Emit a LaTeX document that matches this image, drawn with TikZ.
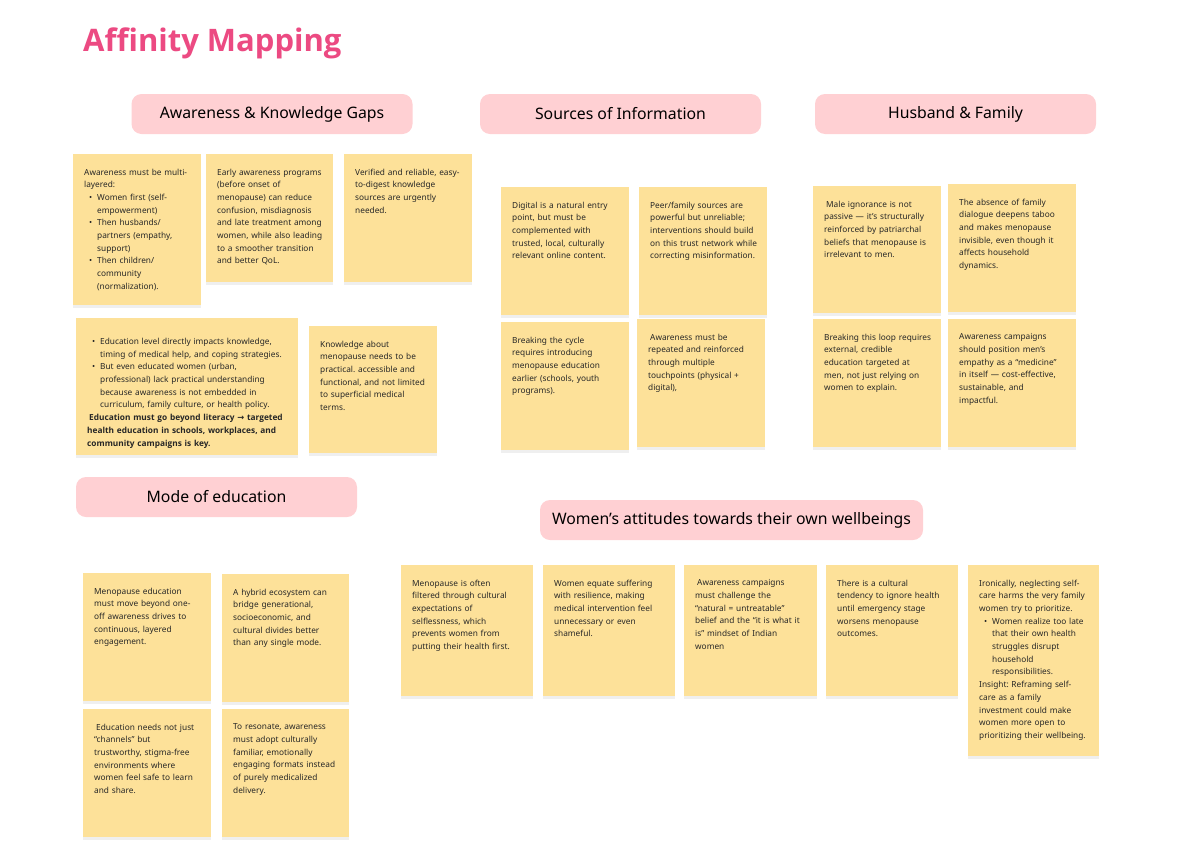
\documentclass[tikz,border=0pt]{standalone}
\usepackage{fontspec}
\setmainfont{Noto Sans}
\newfontfamily\symfont{DejaVu Sans}
\newfontfamily\titlefont{Open Sans}
\usetikzlibrary{shadows}
\definecolor{notey}{HTML}{FDE199}
\definecolor{pill}{HTML}{FFD0D3}
\definecolor{titlepink}{HTML}{EC4A82}
\setlength{\parindent}{0pt}
\frenchspacing
\newcommand{\bitem}{\par\noindent\hangindent=13pt\hangafter=1\makebox[13pt][l]{\hspace{5pt}\textbullet}}
\newcommand{\plain}{\par\noindent}
\newcommand{\lead}{\hspace*{2pt}}
\newcommand{\nl}{\newline}

\begin{document}
\begin{tikzpicture}[x=1pt, y=-1pt,
    note/.style={fill=notey, anchor=north west, inner sep=0pt, minimum width=128pt, minimum height=128pt,
      drop shadow={shadow xshift=0pt, shadow yshift=-2.5pt, opacity=0.12}},
    txt/.style={anchor=north west, inner sep=0pt, text width=215pt, text=black!85,
      font=\fontsize{8.3}{12.7}\selectfont\raggedright},
    hdr/.style={fill=pill, rounded corners=10pt, minimum width=281pt, minimum height=40pt,
      font=\fontsize{15.8}{18}\selectfont}
]
\fill[white] (0,0) rectangle (1200,857);
\useasboundingbox (0,0) rectangle (1200,857);

% title
\node[anchor=base west, inner sep=0pt, text=titlepink, font=\titlefont\fontsize{31}{36}\selectfont\bfseries] (title) at (83,51) {Affinity Mapping};

% group headers
\node[hdr] (hawr) at (272,114) {Awareness \& Knowledge Gaps};
\node[hdr] (hsrc) at (620.5,114) {Sources of Information};
\node[hdr] (hfam) at (955.5,114) {Husband \& Family};
\node[hdr] (hmod) at (216.5,497) {Mode of education};
\node[hdr, minimum width=383pt] (hwom) at (731.5,520) {Women’s attitudes towards their own wellbeings};

% awareness & knowledge gaps
\node[note, minimum height=151pt] (a1) at (73,154) {};
\node[txt] (a1t) at ([shift={(11,14.5)}]a1.north west) {Awareness must be multi-\\layered:
  \bitem Women first (self-\nl empowerment)
  \bitem Then husbands/\nl partners (empathy,\nl support)
  \bitem Then children/\nl community\nl (normalization).\par};
\node[note, minimum width=127pt] (a2) at (206,154) {};
\node[txt] (a2t) at ([shift={(11,14.5)}]a2.north west) {Early awareness programs\\(before onset of\\menopause) can reduce\\confusion, misdiagnosis\\and late treatment among\\women, while also leading\\to a smoother transition\\and better QoL.};
\node[note] (a3) at (344,154) {};
\node[txt] (a3t) at ([shift={(11,14.5)}]a3.north west) {Verified and reliable, easy-\\to-digest knowledge\\sources are urgently\\needed.};
\node[note, minimum width=222pt, minimum height=137pt] (a4) at (76,318) {};
\node[txt] (a4t) at ([shift={(11,13.5)}]a4.north west) {\bitem Education level directly impacts knowledge,\nl timing of medical help, and coping strategies.
  \bitem But even educated women (urban,\nl professional) lack practical understanding\nl because awareness is not embedded in\nl curriculum, family culture, or health policy.
  \plain{\titlefont\bfseries\lead Education must go beyond literacy {\symfont\bfseries →} targeted\\health education in schools, workplaces, and\\community campaigns is key.}};
\node[note, minimum height=127pt] (a5) at (309,326) {};
\node[txt] (a5t) at ([shift={(11,14.5)}]a5.north west) {Knowledge about\\menopause needs to be\\practical. accessible and\\functional, and not limited\\to superficial medical\\terms.};

% sources of information
\node[note] (b1) at (501,187) {};
\node[txt] (b1t) at ([shift={(11,14.5)}]b1.north west) {Digital is a natural entry\\point, but must be\\complemented with\\trusted, local, culturally\\relevant online content.};
\node[note] (b2) at (639,187) {};
\node[txt] (b2t) at ([shift={(11,14.5)}]b2.north west) {Peer/family sources are\\powerful but unreliable;\\interventions should build\\on this trust network while\\correcting misinformation.};
\node[note] (b3) at (501,322) {};
\node[txt] (b3t) at ([shift={(11,14.5)}]b3.north west) {Breaking the cycle\\requires introducing\\menopause education\\earlier (schools, youth\\programs).};
\node[note] (b4) at (637,319) {};
\node[txt] (b4t) at ([shift={(11,14.5)}]b4.north west) {\lead Awareness must be\\repeated and reinforced\\through multiple\\touchpoints (physical +\\digital),};

% husband & family
\node[note, minimum height=127pt] (c1) at (813,186) {};
\node[txt] (c1t) at ([shift={(11,14.5)}]c1.north west) {\lead Male ignorance is not\\passive — it’s structurally\\reinforced by patriarchal\\beliefs that menopause is\\irrelevant to men.};
\node[note] (c2) at (948,184) {};
\node[txt] (c2t) at ([shift={(11,14.5)}]c2.north west) {The absence of family\\dialogue deepens taboo\\and makes menopause\\invisible, even though it\\affects household\\dynamics.};
\node[note] (c3) at (813,319) {};
\node[txt] (c3t) at ([shift={(11,14.5)}]c3.north west) {Breaking this loop requires\\external, credible\\education targeted at\\men, not just relying on\\women to explain.};
\node[note] (c4) at (948,319) {};
\node[txt] (c4t) at ([shift={(11,14.5)}]c4.north west) {Awareness campaigns\\should position men’s\\empathy as a “medicine”\\in itself — cost-effective,\\sustainable, and\\impactful.};

% mode of education
\node[note] (d1) at (83,573) {};
\node[txt] (d1t) at ([shift={(11,14.5)}]d1.north west) {Menopause education\\must move beyond one-\\off awareness drives to\\continuous, layered\\engagement.};
\node[note, minimum width=127pt] (d2) at (222,574) {};
\node[txt] (d2t) at ([shift={(11,14.5)}]d2.north west) {A hybrid ecosystem can\\bridge generational,\\socioeconomic, and\\cultural divides better\\than any single mode.};
\node[note] (d3) at (83,709) {};
\node[txt] (d3t) at ([shift={(11,14.5)}]d3.north west) {\lead Education needs not just\\“channels” but\\trustworthy, stigma-free\\environments where\\women feel safe to learn\\and share.};
\node[note, minimum width=127pt] (d4) at (222,709) {};
\node[txt] (d4t) at ([shift={(11,14.5)}]d4.north west) {To resonate, awareness\\must adopt culturally\\familiar, emotionally\\engaging formats instead\\of purely medicalized\\delivery.};

% women's attitudes
\node[note, minimum width=132pt, minimum height=131pt] (e1) at (401,565) {};
\node[txt] (e1t) at ([shift={(11,14.5)}]e1.north west) {Menopause is often\\filtered through cultural\\expectations of\\selflessness, which\\prevents women from\\putting their health first.};
\node[note, minimum width=132pt, minimum height=131pt] (e2) at (543,565) {};
\node[txt] (e2t) at ([shift={(11,14.5)}]e2.north west) {Women equate suffering\\with resilience, making\\medical intervention feel\\unnecessary or even\\shameful.};
\node[note, minimum width=133pt, minimum height=131pt] (e3) at (684,565) {};
\node[txt] (e3t) at ([shift={(11,14.5)}]e3.north west) {\lead Awareness campaigns\\must challenge the\\“natural = untreatable”\\belief and the “it is what it\\is” mindset of Indian\\women};
\node[note, minimum width=132pt, minimum height=131pt] (e4) at (826,565) {};
\node[txt] (e4t) at ([shift={(11,14.5)}]e4.north west) {There is a cultural\\tendency to ignore health\\until emergency stage\\worsens menopause\\outcomes.};
\node[note, minimum width=131pt, minimum height=191pt] (e5) at (968,565) {};
\node[txt] (e5t) at ([shift={(11,14.5)}]e5.north west) {Ironically, neglecting self-\\care harms the very family\\women try to prioritize.
  \bitem Women realize too late\nl that their own health\nl struggles disrupt\nl household\nl responsibilities.
  \plain Insight: Reframing self-\\care as a family\\investment could make\\women more open to\\prioritizing their wellbeing.};
\end{tikzpicture}
\end{document}
